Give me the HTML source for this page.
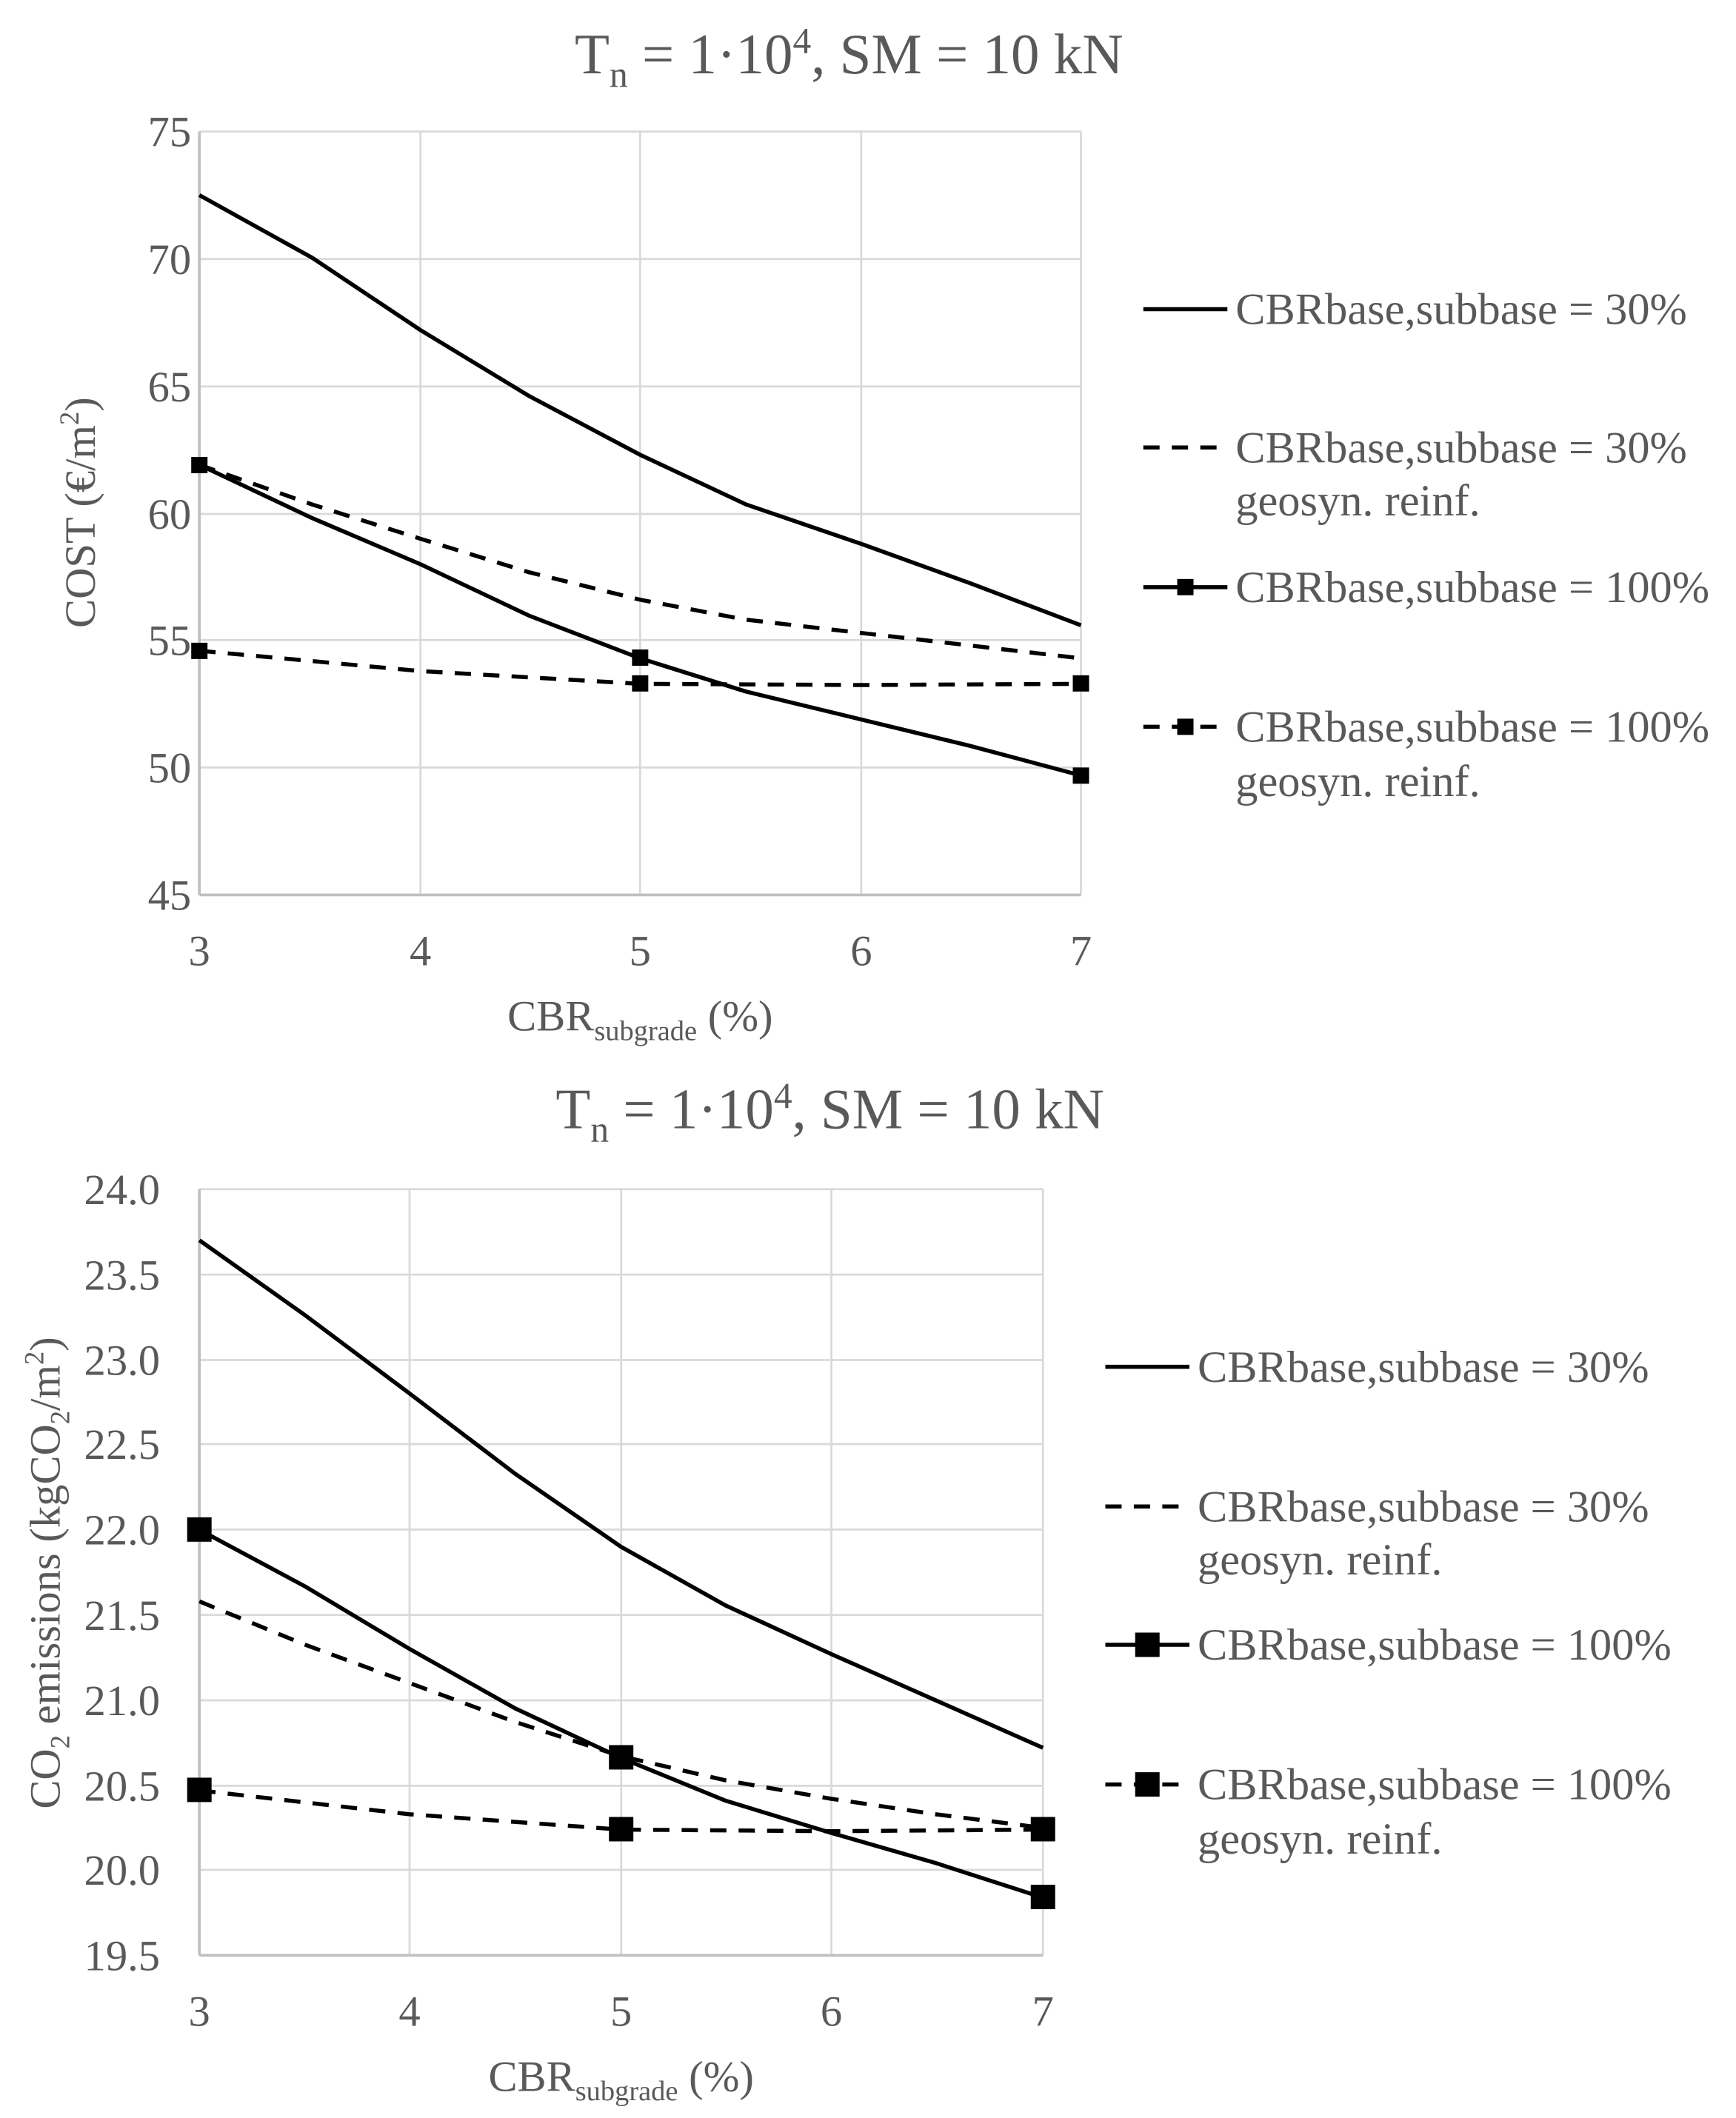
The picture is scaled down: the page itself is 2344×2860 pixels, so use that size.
<!DOCTYPE html>
<html><head><style>html,body{margin:0;padding:0;background:#fff}svg{display:block}</style></head>
<body>
<svg width="2344" height="2860" viewBox="0 0 1280 1562" preserveAspectRatio="none" xmlns="http://www.w3.org/2000/svg" font-family="Liberation Serif, serif">
<rect width="1280" height="1562" fill="#fff"/>
<!-- TOP CHART -->
<text x="626" y="54" text-anchor="middle" font-size="42" fill="#595959">T<tspan font-size="27" dy="10">n</tspan><tspan dy="-10"> = 1·10</tspan><tspan font-size="27" dy="-15">4</tspan><tspan dy="15">, SM = 10 kN</tspan></text>
<g stroke="#d9d9d9" stroke-width="1.5">
<line x1="147" y1="97" x2="797" y2="97"/><line x1="147" y1="191" x2="797" y2="191"/><line x1="147" y1="285" x2="797" y2="285"/><line x1="147" y1="379" x2="797" y2="379"/><line x1="147" y1="472" x2="797" y2="472"/><line x1="147" y1="566" x2="797" y2="566"/>
<line x1="310" y1="97" x2="310" y2="660"/><line x1="472" y1="97" x2="472" y2="660"/><line x1="635" y1="97" x2="635" y2="660"/><line x1="797" y1="97" x2="797" y2="660"/>
</g>
<g stroke="#bfbfbf" stroke-width="2"><line x1="147" y1="97" x2="147" y2="660"/><line x1="147" y1="660" x2="797" y2="660"/></g>
<g font-size="32" fill="#595959" text-anchor="end">
<text x="141" y="108">75</text><text x="141" y="202">70</text><text x="141" y="296">65</text><text x="141" y="390">60</text><text x="141" y="483">55</text><text x="141" y="577">50</text><text x="141" y="671">45</text>
</g>
<g font-size="32" fill="#595959" text-anchor="middle">
<text x="147" y="712">3</text><text x="310" y="712">4</text><text x="472" y="712">5</text><text x="635" y="712">6</text><text x="797" y="712">7</text>
<text x="472" y="760">CBR<tspan font-size="21" dy="7">subgrade</tspan><tspan dy="-7"> (%)</tspan></text>
</g>
<text transform="translate(70,378) rotate(-90)" text-anchor="middle" font-size="32" fill="#595959">COST (€/m<tspan font-size="20" dy="-12">2</tspan><tspan dy="12">)</tspan></text>
<g fill="none" stroke="#000" stroke-width="3">
<polyline points="147,143.9 230,190 310,243.4 390,292 472,335.4 550,372 635,401.1 715,430 797,461.1"/>
<polyline stroke-dasharray="12,9" points="147,342.8 230,372 310,397.3 390,422 472,442.3 550,457 635,466.8 715,476 797,485.5"/>
<polyline points="147,342.8 230,382 310,416.1 390,454 472,485.5 550,510 635,530.6 715,550 797,571.9"/>
<polyline stroke-dasharray="12,9" points="147,479.9 310,494.9 472,504.3 635,505.2 797,504.3"/>
</g>
<g fill="#000">
<rect x="141" y="337" width="12" height="12"/><rect x="466" y="479" width="12" height="12"/><rect x="791" y="566" width="12" height="12"/>
<rect x="141" y="474" width="12" height="12"/><rect x="466" y="498" width="12" height="12"/><rect x="791" y="498" width="12" height="12"/>
</g>
<g stroke="#000" stroke-width="3">
<line x1="843" y1="228" x2="905" y2="228"/>
<line x1="843" y1="330" x2="905" y2="330" stroke-dasharray="12,9"/>
<line x1="843" y1="433" x2="905" y2="433"/>
<line x1="843" y1="536" x2="905" y2="536" stroke-dasharray="12,9"/>
</g>
<rect x="868" y="427" width="12" height="12"/><rect x="868" y="530" width="12" height="12"/>
<g font-size="33" fill="#595959">
<text x="911" y="239">CBRbase,subbase = 30%</text>
<text x="911" y="341">CBRbase,subbase = 30%</text><text x="911" y="380">geosyn. reinf.</text>
<text x="911" y="444">CBRbase,subbase = 100%</text>
<text x="911" y="547">CBRbase,subbase = 100%</text><text x="911" y="587">geosyn. reinf.</text>
</g>
<!-- BOTTOM CHART -->
<text x="612" y="832" text-anchor="middle" font-size="42" fill="#595959">T<tspan font-size="27" dy="10">n</tspan><tspan dy="-10"> = 1·10</tspan><tspan font-size="27" dy="-15">4</tspan><tspan dy="15">, SM = 10 kN</tspan></text>
<g stroke="#d9d9d9" stroke-width="1.5">
<line x1="147" y1="877" x2="769" y2="877"/><line x1="147" y1="940" x2="769" y2="940"/><line x1="147" y1="1003" x2="769" y2="1003"/><line x1="147" y1="1065" x2="769" y2="1065"/><line x1="147" y1="1128" x2="769" y2="1128"/><line x1="147" y1="1191" x2="769" y2="1191"/><line x1="147" y1="1254" x2="769" y2="1254"/><line x1="147" y1="1317" x2="769" y2="1317"/><line x1="147" y1="1379" x2="769" y2="1379"/>
<line x1="302" y1="877" x2="302" y2="1442"/><line x1="458" y1="877" x2="458" y2="1442"/><line x1="613" y1="877" x2="613" y2="1442"/><line x1="769" y1="877" x2="769" y2="1442"/>
</g>
<g stroke="#bfbfbf" stroke-width="2"><line x1="147" y1="877" x2="147" y2="1442"/><line x1="147" y1="1442" x2="769" y2="1442"/></g>
<g font-size="32" fill="#595959" text-anchor="end">
<text x="118" y="888">24.0</text><text x="118" y="951">23.5</text><text x="118" y="1014">23.0</text><text x="118" y="1076">22.5</text><text x="118" y="1139">22.0</text><text x="118" y="1202">21.5</text><text x="118" y="1265">21.0</text><text x="118" y="1328">20.5</text><text x="118" y="1390">20.0</text><text x="118" y="1453">19.5</text>
</g>
<g font-size="32" fill="#595959" text-anchor="middle">
<text x="147" y="1494">3</text><text x="302" y="1494">4</text><text x="458" y="1494">5</text><text x="613" y="1494">6</text><text x="769" y="1494">7</text>
<text x="458" y="1542">CBR<tspan font-size="21" dy="7">subgrade</tspan><tspan dy="-7"> (%)</tspan></text>
</g>
<text transform="translate(44,1160) rotate(-90)" text-anchor="middle" font-size="32" fill="#595959">CO<tspan font-size="20" dy="7">2</tspan><tspan dy="-7"> emissions (kgCO</tspan><tspan font-size="20" dy="7">2</tspan><tspan dy="-7">/m</tspan><tspan font-size="20" dy="-12">2</tspan><tspan dy="12">)</tspan></text>
<g fill="none" stroke="#000" stroke-width="3">
<polyline points="147,914.7 225,970 302,1027.7 380,1087 458,1140.8 535,1184 613,1219.9 690,1254 769,1289"/>
<polyline stroke-dasharray="12,9" points="147,1181 225,1213 302,1241.2 380,1270 458,1295.2 535,1313 613,1326.6 690,1338 769,1348"/>
<polyline points="147,1128.2 225,1170 302,1216.1 380,1260 458,1296.5 535,1328 613,1351.8 690,1374 769,1399.5"/>
<polyline stroke-dasharray="12,9" points="147,1320.4 302,1338 458,1349.3 613,1350.5 769,1349.3"/>
</g>
<g fill="#000">
<rect x="138" y="1119" width="18" height="18"/><rect x="449" y="1287" width="18" height="18"/><rect x="760" y="1390" width="18" height="18"/>
<rect x="138" y="1311" width="18" height="18"/><rect x="449" y="1340" width="18" height="18"/><rect x="760" y="1340" width="18" height="18"/>
</g>
<g stroke="#000" stroke-width="3">
<line x1="815" y1="1008" x2="877" y2="1008"/>
<line x1="815" y1="1111" x2="877" y2="1111" stroke-dasharray="12,9"/>
<line x1="815" y1="1213" x2="877" y2="1213"/>
<line x1="815" y1="1316" x2="877" y2="1316" stroke-dasharray="12,9"/>
</g>
<rect x="837" y="1204" width="18" height="18"/><rect x="837" y="1307" width="18" height="18"/>
<g font-size="33" fill="#595959">
<text x="883" y="1019">CBRbase,subbase = 30%</text>
<text x="883" y="1122">CBRbase,subbase = 30%</text><text x="883" y="1161">geosyn. reinf.</text>
<text x="883" y="1224">CBRbase,subbase = 100%</text>
<text x="883" y="1327">CBRbase,subbase = 100%</text><text x="883" y="1367">geosyn. reinf.</text>
</g>
</svg>
</body></html>
